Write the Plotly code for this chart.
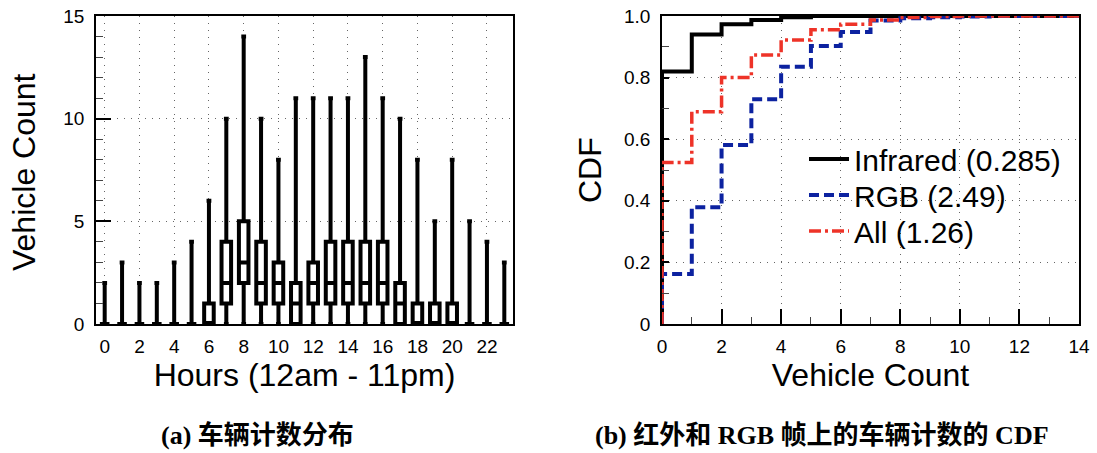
import plotly.graph_objects as go

# ---------------- data ----------------
hours = list(range(24))
box_min = [0] * 24
box_q1 = [0, 0, 0, 0, 0, 0, 0, 1, 2, 1, 1, 0, 1, 1, 1, 1, 1, 0, 0, 0, 0, 0, 0, 0]
box_median = [0, 0, 0, 0, 0, 0, 0, 2, 3, 2, 2, 1, 2, 2, 2, 2, 2, 1, 0, 0, 0, 0, 0, 0]
box_q3 = [0, 0, 0, 0, 0, 0, 1, 4, 5, 4, 3, 2, 3, 4, 4, 4, 4, 2, 1, 1, 1, 0, 0, 0]
box_max = [2, 3, 2, 2, 3, 4, 6, 10, 14, 10, 8, 11, 11, 11, 11, 13, 11, 10, 8, 5, 8, 5, 4, 3]

counts = list(range(15))
cdf_infrared = [0.82, 0.94, 0.973, 0.987, 0.996, 1.0, 1.0, 1.0, 1.0, 1.0, 1.0, 1.0, 1.0, 1.0, 1.0]
cdf_rgb = [0.162, 0.379, 0.581, 0.73, 0.835, 0.903, 0.948, 0.985, 0.993, 0.996, 0.998, 1.0, 1.0, 1.0, 1.0]
cdf_all = [0.524, 0.689, 0.80, 0.873, 0.922, 0.955, 0.973, 0.987, 0.995, 0.998, 1.0, 1.0, 1.0, 1.0, 1.0]

series_names = ["Infrared (0.285)", "RGB (2.49)", "All (1.26)"]
left_xticks = list(range(0, 23, 2))
right_yticks = [0, 0.2, 0.4, 0.6, 0.8, 1.0]
right_yticktext = ["0", "0.2", "0.4", "0.6", "0.8", "1.0"]
caption_a = "(a) 车辆计数分布"
caption_b = "(b) 红外和 RGB 帧上的车辆计数的 CDF"

# ---------------- figure ----------------
W, H = 1097, 453
SANS = "Liberation Sans, Arial, Helvetica, sans-serif"

fig = go.Figure()

fig.add_trace(go.Box(
    x=hours, q1=box_q1, median=box_median, q3=box_q3,
    lowerfence=box_min, upperfence=box_max,
    width=0.55, whiskerwidth=0.5,
    line=dict(color="black", width=4), fillcolor="white",
    boxpoints=False, showlegend=False, hoverinfo="skip",
    xaxis="x", yaxis="y",
))

styles = [
    dict(color="black", width=4, dash="solid"),
    dict(color="#0c22a0", width=4, dash="10px,5px"),
    dict(color="#ee3328", width=3.5, dash="12px,4px,3px,4px"),
]
legend_ids = ["legend", "legend2", "legend3"]
for name, vals, st, lg in zip(series_names, [cdf_infrared, cdf_rgb, cdf_all], styles, legend_ids):
    fig.add_trace(go.Scatter(
        x=[counts[0]] + counts, y=[0] + vals,
        mode="lines", line=dict(shape="hv", **st),
        name=name, xaxis="x2", yaxis="y2", legend=lg,
    ))

def px_x(p):
    return p / W

def px_y(p):
    return 1 - p / H

grid = dict(showgrid=True, gridcolor="#666666", griddash="1px,6px", gridwidth=1)
frame = dict(showline=True, linecolor="black", linewidth=1.5, mirror=True, zeroline=False,
             automargin=False)
tickfont = dict(family=SANS, size=19, color="black")
titlefont = dict(family=SANS, size=32, color="black")

def legend_at(ypx):
    return dict(
        x=px_x(804), y=px_y(ypx), xanchor="left", yanchor="middle",
        bgcolor="rgba(0,0,0,0)", borderwidth=0,
        font=dict(family=SANS, size=30, color="black"),
        itemwidth=40,
    )

fig.update_layout(
    width=W, height=H,
    margin=dict(l=0, r=0, t=0, b=0, autoexpand=False),
    paper_bgcolor="white", plot_bgcolor="white",
    xaxis=dict(
        domain=[px_x(96), px_x(513)], anchor="y", range=[-0.5, 23.5],
        tickvals=left_xticks, ticks="", tickfont=tickfont, ticklabelstandoff=4,
        title=dict(text="Hours (12am - 11pm)", font=titlefont, standoff=4),
        **grid, **frame,
    ),
    yaxis=dict(
        domain=[px_y(324), px_y(16)], anchor="x", range=[0, 15],
        tick0=0, dtick=5, ticks="inside", ticklen=15, tickwidth=1.5, tickcolor="black",
        minor=dict(dtick=1, ticks="inside", ticklen=7, tickwidth=1, tickcolor="#444", showgrid=False),
        tickfont=tickfont, ticklabelstandoff=6,
        **grid, **frame,
    ),
    xaxis2=dict(
        domain=[px_x(662), px_x(1079)], anchor="y2", range=[0, 14],
        tick0=0, dtick=2, ticks="inside", ticklen=15, tickwidth=1.5, tickcolor="black",
        minor=dict(dtick=1, ticks="inside", ticklen=7, tickwidth=1, tickcolor="#444", showgrid=False),
        tickfont=tickfont, ticklabelstandoff=4,
        title=dict(text="Vehicle Count", font=titlefont, standoff=4),
        **grid, **frame,
    ),
    yaxis2=dict(
        domain=[px_y(324), px_y(16)], anchor="x2", range=[0, 1],
        tickvals=right_yticks, ticktext=right_yticktext,
        ticks="inside", ticklen=7, tickwidth=1.5, tickcolor="black",
        minor=dict(dtick=0.1, ticks="inside", ticklen=7, tickwidth=1, tickcolor="#444", showgrid=False),
        tickfont=tickfont, ticklabelstandoff=6,
        **grid, **frame,
    ),
    legend=legend_at(159),
    legend2=legend_at(195),
    legend3=legend_at(231),
    showlegend=True,
)

# y-axis titles placed as rotated text
fig.add_annotation(text="Vehicle Count", x=px_x(24), y=px_y(172), xref="paper", yref="paper",
                   xanchor="center", yanchor="middle", textangle=-90, showarrow=False,
                   font=titlefont)
fig.add_annotation(text="CDF", x=px_x(590), y=px_y(170), xref="paper", yref="paper",
                   xanchor="center", yanchor="middle", textangle=-90, showarrow=False,
                   font=titlefont)

capfont = dict(family="Liberation Serif, Noto Sans CJK SC, serif", size=26, color="black")
fig.add_annotation(text="<b>" + caption_a + "</b>", x=px_x(257), y=px_y(435),
                   xref="paper", yref="paper", xanchor="center", yanchor="middle",
                   showarrow=False, font=capfont)
fig.add_annotation(text="<b>" + caption_b + "</b>", x=px_x(822), y=px_y(435),
                   xref="paper", yref="paper", xanchor="center", yanchor="middle",
                   showarrow=False, font=capfont)

fig.write_html("out.html")
